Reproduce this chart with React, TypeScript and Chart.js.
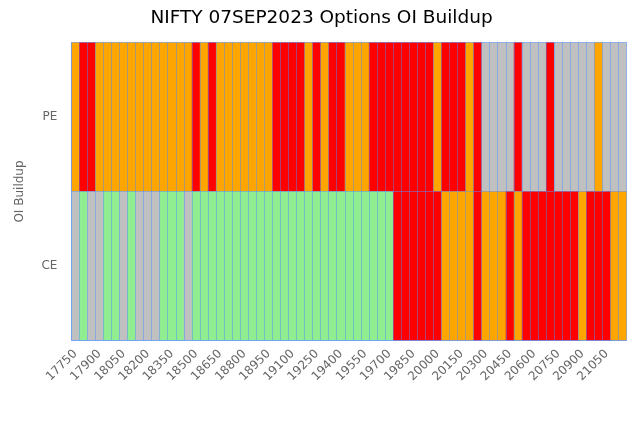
import React, { useEffect, useRef } from "react";
import { Chart, registerables } from "chart.js";
Chart.register(...registerables);

const strikes: number[] = [
  17750, 17800, 17850, 17900, 17950, 18000, 18050, 18100, 18150, 18200,
  18250, 18300, 18350, 18400, 18450, 18500, 18550, 18600, 18650, 18700,
  18750, 18800, 18850, 18900, 18950, 19000, 19050, 19100, 19150, 19200,
  19250, 19300, 19350, 19400, 19450, 19500, 19550, 19600, 19650, 19700,
  19750, 19800, 19850, 19900, 19950, 20000, 20050, 20100, 20150, 20200,
  20250, 20300, 20350, 20400, 20450, 20500, 20550, 20600, 20650, 20700,
  20750, 20800, 20850, 20900, 20950, 21000, 21050, 21100, 21150,
];

// SB = short buildup, SC = short covering, LB = long buildup, LU = long unwinding
const peBuildup: string[] = [
  "SC", "SB", "SB", "SC", "SC", "SC", "SC", "SC", "SC", "SC",
  "SC", "SC", "SC", "SC", "SC", "SB", "SC", "SB", "SC", "SC",
  "SC", "SC", "SC", "SC", "SC", "SB", "SB", "SB", "SB", "SC",
  "SB", "SC", "SB", "SB", "SC", "SC", "SC", "SB", "SB", "SB",
  "SB", "SB", "SB", "SB", "SB", "SC", "SB", "SB", "SB", "SC",
  "SB", "LU", "LU", "LU", "LU", "SB", "LU", "LU", "LU", "SB",
  "LU", "LU", "LU", "LU", "LU", "SC", "LU", "LU", "LU",
];

const ceBuildup: string[] = [
  "LU", "LB", "LU", "LU", "LB", "LB", "LU", "LB", "LU", "LU",
  "LU", "LB", "LB", "LB", "LU", "LB", "LB", "LB", "LB", "LB",
  "LB", "LB", "LB", "LB", "LB", "LB", "LB", "LB", "LB", "LB",
  "LB", "LB", "LB", "LB", "LB", "LB", "LB", "LB", "LB", "LB",
  "SB", "SB", "SB", "SB", "SB", "SB", "SC", "SC", "SC", "SC",
  "SB", "SC", "SC", "SC", "SB", "SC", "SB", "SB", "SB", "SB",
  "SB", "SB", "SB", "SC", "SB", "SB", "SB", "SC", "SC",
];

const rowLabels: string[] = ["CE", "PE"];

const buildupColors: Record<string, string> = {
  SB: "#ff0000",
  SC: "#ffa500",
  LB: "#90ee90",
  LU: "#c0c0c0",
};

const FONT = "'DejaVu Sans', sans-serif";
const GRID = "rgba(70, 140, 255, 0.45)";

export default function App() {
  const ref = useRef<HTMLCanvasElement | null>(null);
  useEffect(() => {
    document.body.style.margin = "0";
    const canvas = ref.current!;
    const chart = new Chart(canvas, {
      type: "bar",
      data: {
        labels: strikes.map(String),
        datasets: [
          {
            label: "CE",
            data: strikes.map(() => 1),
            backgroundColor: ceBuildup.map((c) => buildupColors[c]),
            borderWidth: 0,
            barPercentage: 1,
            categoryPercentage: 1,
          },
          {
            label: "PE",
            data: strikes.map(() => 1),
            backgroundColor: peBuildup.map((c) => buildupColors[c]),
            borderWidth: 0,
            barPercentage: 1,
            categoryPercentage: 1,
          },
        ],
      },
      options: {
        responsive: false,
        animation: false,
        layout: { padding: { left: 13, right: 9, top: 0, bottom: 36 } },
        plugins: {
          legend: { display: false },
          tooltip: { enabled: false },
          title: {
            display: true,
            text: "NIFTY 07SEP2023 Options OI Buildup",
            color: "#000",
            font: { family: FONT, size: 18.5, weight: "normal" },
            padding: { top: 7, bottom: 13 },
          },
        },
        scales: {
          x: {
            stacked: true,
            offset: true,
            grid: {
              display: true,
              offset: true,
              color: GRID,
              z: 1,
              drawTicks: false,
            },
            border: { display: true, color: GRID, z: 2 },
            ticks: {
              autoSkip: false,
              minRotation: 45,
              maxRotation: 45,
              padding: 6,
              color: "#666",
              font: { family: FONT, size: 12 },
              callback: (_v: any, i: number) => (i % 3 === 0 ? String(strikes[i]) : ""),
            },
          },
          y: {
            stacked: true,
            min: 0,
            max: 2,
            afterBuildTicks: (axis: any) => {
              axis.ticks = [0, 0.5, 1, 1.5, 2].map((v) => ({ value: v }));
            },
            grid: {
              display: true,
              z: 1,
              drawTicks: false,
              color: (ctx: any) =>
                ctx.tick && (ctx.tick.value === 0.5 || ctx.tick.value === 1.5)
                  ? "rgba(0,0,0,0)"
                  : GRID,
            },
            border: { display: true, color: GRID, z: 2 },
            ticks: {
              color: "#666",
              padding: 14,
              font: { family: FONT, size: 12 },
              callback: (v: any) =>
                v === 0.5 ? rowLabels[0] : v === 1.5 ? rowLabels[1] : "",
            },
            title: {
              display: true,
              text: "OI Buildup",
              color: "#666",
              font: { family: FONT, size: 12 },
              padding: { top: 0, bottom: 0 },
            },
          },
        },
      },
    });
    return () => chart.destroy();
  }, []);
  return <canvas ref={ref} width={639} height={426} style={{ display: "block" }} />;
}
